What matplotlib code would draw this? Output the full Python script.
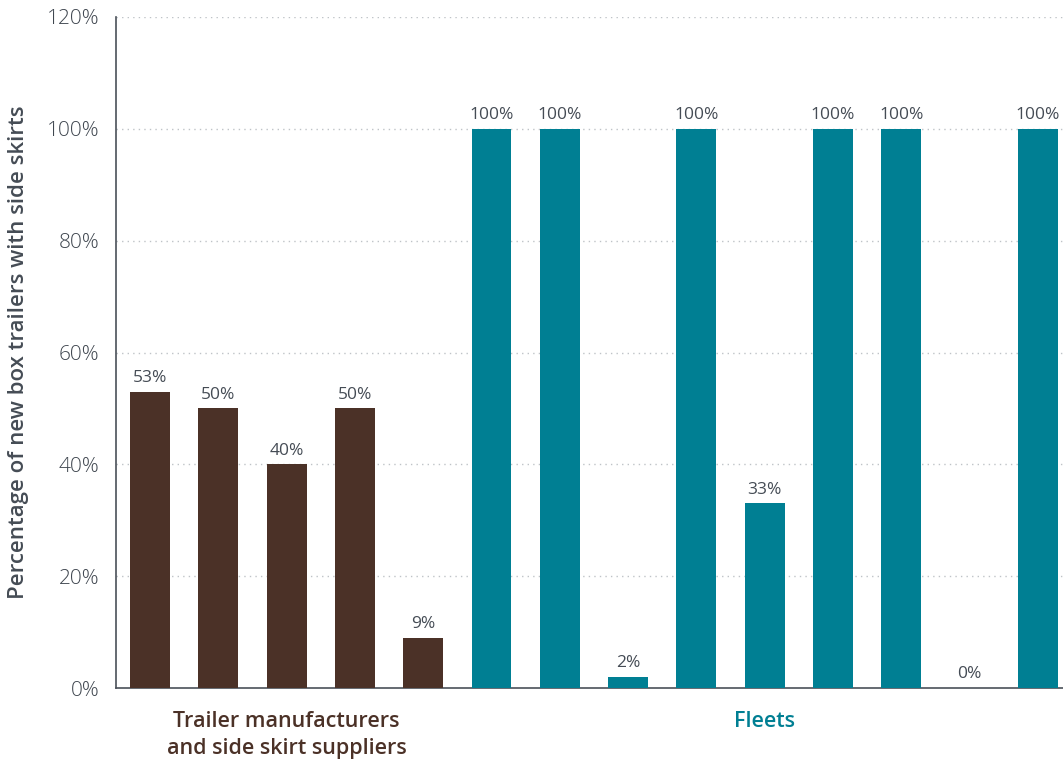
import matplotlib
matplotlib.use("Agg")
import matplotlib.pyplot as plt
from matplotlib.ticker import FuncFormatter

# Share of new box trailers fitted with side skirts, by respondent
manufacturer_values = [53, 50, 40, 50, 9]
fleet_values = [100, 100, 2, 100, 33, 100, 100, 0, 100]
group_labels = ["Trailer manufacturers\nand side skirt suppliers", "Fleets"]
y_ticks = [0, 20, 40, 60, 80, 100, 120]

BROWN = "#4B3127"
TEAL = "#007F93"
TEXT = "#454C55"
GRID = "#BFC3C7"

plt.rcParams["font.family"] = ["Open Sans", "DejaVu Sans"]

fig = plt.figure(figsize=(10.63, 7.61), dpi=100)
ax = fig.add_axes([116 / 1063, 1 - 688 / 761, 1 - 116 / 1063, (688 - 17) / 761])

values = manufacturer_values + fleet_values
colors = [BROWN] * len(manufacturer_values) + [TEAL] * len(fleet_values)
xs = list(range(len(values)))
bars = ax.bar(xs, values, width=0.585, color=colors, zorder=3)

for x, v in zip(xs, values):
    ax.annotate(f"{v}%", (x, v), xytext=(0, 4), textcoords="offset points",
                ha="center", va="bottom", fontsize=12.5, color=TEXT,
                fontweight="medium", zorder=4)

ax.set_ylim(0, 120)
ax.set_xlim(-0.5, 13.37)
ax.set_yticks(y_ticks)
ax.yaxis.set_major_formatter(FuncFormatter(lambda v, _: f"{v:.0f}%"))
ax.set_xticks([])
ax.tick_params(axis="y", length=0, pad=12, labelsize=15, labelcolor="#3F464F")
for lab in ax.get_yticklabels():
    lab.set_fontweight("light")

for t in y_ticks[1:]:
    ax.axhline(t, color=GRID, linestyle=(0, (1, 3)), linewidth=1, zorder=1)

for side in ("top", "right"):
    ax.spines[side].set_visible(False)
for side in ("left", "bottom"):
    ax.spines[side].set_color("#4A5059")
    ax.spines[side].set_linewidth(1.2)

ax.set_ylabel("Percentage of new box trailers with side skirts", fontsize=16,
              color=TEXT, fontweight="semibold")
ax.yaxis.set_label_coords(-0.092, 0.5)

m_center = (len(manufacturer_values) - 1) / 2
f_center = len(manufacturer_values) + (len(fleet_values) - 1) / 2
ax.text(m_center, -4.1, group_labels[0], ha="center", va="top", fontsize=15.5,
        color=BROWN, fontweight="semibold", linespacing=1.4)
ax.text(f_center, -4.1, group_labels[1], ha="center", va="top", fontsize=15.5,
        color=TEAL, fontweight="semibold")

fig.savefig("out.png", dpi=100)
